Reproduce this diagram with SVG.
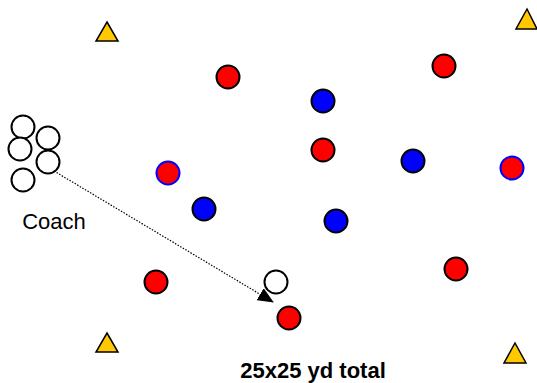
<svg xmlns="http://www.w3.org/2000/svg" width="537" height="383" viewBox="0 0 537 383">
<style>
.red{fill:#ff0000;stroke:#000;stroke-width:2}
.blue{fill:#0000ff;stroke:#000;stroke-width:2}
.rb{fill:#ff0000;stroke:#0000ff;stroke-width:2}
.white{fill:#fff;stroke:#000;stroke-width:2}
.cone{fill:#ffc800;stroke:#000;stroke-width:1.5;stroke-linejoin:miter}
.lbl{font-family:"Liberation Sans",Arial,sans-serif;font-size:22px;fill:#000}
</style>
<defs>
<marker id="ah" markerWidth="16" markerHeight="14" refX="15" refY="7" orient="auto" markerUnits="userSpaceOnUse" viewBox="0 0 16 14">
<path d="M0,0 L16,7 L0,14 z" fill="#000"/>
</marker>
</defs>
<rect width="537" height="383" fill="#fff"/>
<g id="connectors">
<line x1="54" y1="171" x2="273" y2="302" stroke="#000" stroke-width="1.2" stroke-dasharray="1.5,1.5" marker-end="url(#ah)"/>
</g>
<g id="cones">
<polygon class="cone" points="107,22 118,41 96,41"/>
<polygon class="cone" points="527,9 537,29 516,29"/>
<polygon class="cone" points="107,333 118,352 96,352"/>
<polygon class="cone" points="515,343 526,363 504,363"/>
</g>
<g id="coach">
<circle class="white" cx="23" cy="127" r="11.5"/>
<circle class="white" cx="48" cy="138" r="11.5"/>
<circle class="white" cx="20" cy="149" r="11.5"/>
<circle class="white" cx="48" cy="162" r="11.5"/>
<circle class="white" cx="23" cy="180" r="11.5"/>
<text class="lbl" x="54" y="229" text-anchor="middle">Coach</text>
</g>
<g id="reds">
<circle class="red" cx="228" cy="77" r="11.5"/>
<circle class="red" cx="444" cy="66" r="11.5"/>
<circle class="red" cx="323" cy="150" r="11.5"/>
<circle class="red" cx="156" cy="282" r="11.5"/>
<circle class="red" cx="456" cy="269" r="11.5"/>
<circle class="red" cx="289" cy="318" r="11.5"/>
</g>
<g id="redblue">
<circle class="rb" cx="168" cy="173" r="11.5"/>
<circle class="rb" cx="512" cy="168" r="11.5"/>
</g>
<g id="blues">
<circle class="blue" cx="323" cy="101" r="11.5"/>
<circle class="blue" cx="413" cy="161" r="11.5"/>
<circle class="blue" cx="204" cy="209" r="11.5"/>
<circle class="blue" cx="336" cy="221" r="11.5"/>
</g>
<g id="player">
<circle class="white" cx="276" cy="282" r="11.5"/>
</g>
<text class="lbl" x="313" y="378" text-anchor="middle" font-weight="bold">25x25 yd total</text>
</svg>
